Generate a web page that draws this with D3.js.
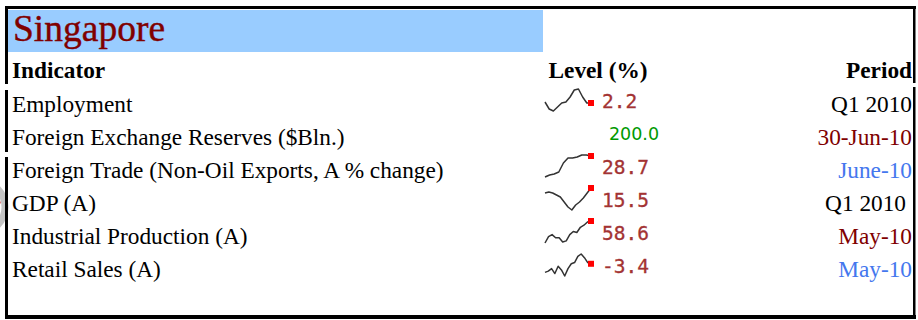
<!DOCTYPE html>
<html>
<head>
<meta charset="utf-8">
<script src="https://cdn.jsdelivr.net/npm/d3@7/dist/d3.min.js"></script>
<style>
  html, body { margin: 0; padding: 0; background: #fff; }
  svg { display: block; }
</style>
</head>
<body>
<div id="chart"></div>
<script>
var title = 'Singapore';
var headers = ['Indicator', 'Level (%)', 'Period'];

var indicators = [
  'Employment',
  'Foreign Exchange Reserves ($Bln.)',
  'Foreign Trade (Non-Oil Exports, A % change)',
  'GDP (A)',
  'Industrial Production (A)',
  'Retail Sales (A)'
];

var levels  = ['2.2', '200.0', '28.7', '15.5', '58.6', '-3.4'];
var periods = ['Q1 2010', '30-Jun-10', 'June-10', 'Q1 2010', 'May-10', 'May-10'];

// history behind each level, last point is the current value (null = no sparkline)
var employment_trend = [2.4, 1.0, 0.6, 1.4, 2.2, 2.4, 3.4, 4.8, 5.0, 3.4, 2.2, 2.2];
var reserves_trend   = null;
var trade_trend      = [-13.3, -9.3, -7.3, -3.3, 14.7, 24.7, 24.7, 26.7, 30.7, 30.7, 28.7];
var gdp_trend        = [10.5, 11.5, 10.5, 8.5, 6.5, 1.5, -3.5, -6.5, -1.5, 1.5, 5.5, 10.5, 15.5];
var ip_trend         = [-4.4, 13.6, 19.6, 10.6, 10.6, -1.4, 1.6, 19.6, 28.6, 25.6, 40.6, 46.6, 55.6, 58.6];
var retail_trend     = [-10.4, -9.4, -7.4, -11.4, -5.4, -8.4, -13.4, -7.4, -3.4, -2.4, 2.6, 4.6, 1.6, -2.4, -3.4];

var trends = [employment_trend, reserves_trend, trade_trend, gdp_trend, ip_trend, retail_trend];

// colours of the level and period cells
var level_colors  = ['#a33333', '#009900', '#a33333', '#a33333', '#a33333', '#a33333'];
var period_colors = ['#000000', '#800000', '#4477ee', '#000000', '#800000', '#4477ee'];

function table_draw(o) {
  var svg = d3.select(o.container).append('svg')
    .attr('width', o.width)
    .attr('height', o.height);

  var serif = '"Liberation Serif", "Times New Roman", serif';
  var fs = '23.3px';

  // cut-off logo at the left edge
  var logo = svg.append('g');
  logo.append('circle')
    .attr('cx', -21).attr('cy', 207).attr('r', 26)
    .style('fill', 'none').style('stroke', '#c4c4c4').style('stroke-width', 7);
  logo.append('path')
    .attr('d', d3.arc()({ innerRadius: 18, outerRadius: 22, startAngle: 0.7, endAngle: 1.4 }))
    .attr('transform', 'translate(-21,207)')
    .style('fill', '#c00000');

  // title band
  svg.append('rect')
    .attr('x', 8).attr('y', 10)
    .attr('width', 535).attr('height', 42)
    .style('fill', '#99ccff');

  svg.append('text')
    .attr('x', 13).attr('y', 41)
    .style('font-family', serif)
    .style('font-size', '37.5px')
    .style('fill', '#800000')
    .style('stroke', '#800000')
    .style('stroke-width', 0.4)
    .text(o.title);

  // header row
  var head = svg.append('g')
    .style('font-family', serif)
    .style('font-size', fs)
    .style('font-weight', 'bold');

  head.append('text').attr('x', 12).attr('y', 78).text(o.headers[0]);
  head.append('text').attr('x', 598).attr('y', 78).attr('text-anchor', 'middle').text(o.headers[1]);
  head.append('text').attr('x', 912).attr('y', 78).attr('text-anchor', 'end').text(o.headers[2]);

  var y = d3.scalePoint()
    .domain(o.indicators)
    .range([112, 277]);

  var x = d3.scaleLinear()
    .domain([0, 1])
    .range([545, 591]);

  var row = svg.selectAll('g.row')
    .data(o.indicators.map((d,i) => ({
      name: d,
      level: o.levels[i],
      period: o.periods[i],
      trend: o.trends[i],
      level_color: o.level_colors[i],
      period_color: o.period_colors[i]
    })))
    .enter().append('g')
    .attr('class', 'row')
    .attr('transform', (d) => `translate(0,${ y(d.name) })`);

  row.append('text')
    .attr('x', 12)
    .style('font-family', serif)
    .style('font-size', fs)
    .style('fill', '#000')
    .text((d) => d.name);

  row.append('text')
    .attr('x', (d,i) => i === 3 ? 906 : 912)
    .attr('text-anchor', 'end')
    .style('font-family', serif)
    .style('font-size', fs)
    .style('fill', (d) => d.period_color)
    .text((d) => d.period);

  row.each(function(d) {
    var g = d3.select(this);

    if (!d.trend) {
      g.append('text')
        .attr('x', 634).attr('y', -5)
        .attr('text-anchor', 'middle')
        .style('font-family', '"DejaVu Sans", Verdana, sans-serif')
        .style('font-size', '17.5px')
        .style('fill', d.level_color)
        .text(d.level);
      return;
    }

    var n = d.trend.length;
    var sx = d3.scaleLinear().domain([0, n - 1]).range(x.range());
    var sy = d3.scaleLinear().domain(d3.extent(d.trend)).range([-1, -23]);

    g.append('path')
      .attr('d', d3.line().x((v,i) => sx(i)).y((v) => sy(v))(d.trend))
      .style('fill', 'none')
      .style('stroke', '#333')
      .style('stroke-width', 1.5)
      .style('stroke-linejoin', 'round');

    var last = d.trend[n - 1];

    g.append('rect')
      .attr('x', sx(n - 1) - 3)
      .attr('y', sy(last) - 3)
      .attr('width', 6).attr('height', 6)
      .style('fill', '#ff0000');

    g.append('text')
      .attr('x', sx(n - 1) + 11).attr('y', -4)
      .style('font-family', '"DejaVu Sans Mono", monospace')
      .style('font-size', '19.5px')
      .style('fill', d.level_color)
      .style('stroke', d.level_color)
      .style('stroke-width', 0.3)
      .text(d.level);
  });

  // frame, broken into the pieces seen in the reference
  var frame = svg.append('g').style('fill', '#000');
  frame.append('rect').attr('x', 5).attr('y', 6).attr('width', 911).attr('height', 3);
  frame.append('rect').attr('x', 5).attr('y', 315).attr('width', 911).attr('height', 4);
  [[6, 84], [90, 152], [157, 319]].forEach((s) => {
    frame.append('rect').attr('x', 5).attr('y', s[0]).attr('width', 3).attr('height', s[1] - s[0]);
  });
  [[6, 83], [87, 319]].forEach((s) => {
    frame.append('rect').attr('x', 913).attr('y', s[0]).attr('width', 2.5).attr('height', s[1] - s[0]);
  });

  return svg;
}

table_draw({
  container: '#chart',
  width: 918,
  height: 320,
  title: title,
  headers: headers,
  indicators: indicators,
  levels: levels,
  periods: periods,
  trends: trends,
  level_colors: level_colors,
  period_colors: period_colors
});
</script>
</body>
</html>
